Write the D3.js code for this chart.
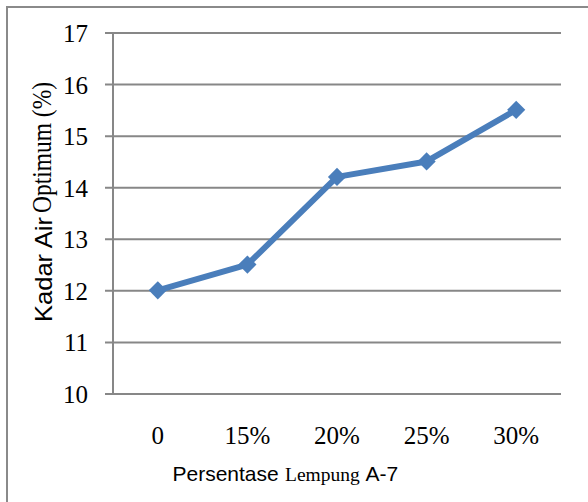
<!DOCTYPE html>
<html>
<head>
<meta charset="utf-8">
<script src="https://cdn.jsdelivr.net/npm/d3@7/dist/d3.min.js"></script>
<style>
  html, body { margin: 0; padding: 0; background: #fff; }
  svg { display: block; }
  .serif { font-family: "Liberation Serif", "Times New Roman", Times, serif; }
  .sans { font-family: "Liberation Sans", Arial, sans-serif; }
</style>
</head>
<body>
<svg id="chart" width="588" height="502"></svg>
<script>
// Optimum moisture content vs. A-7 clay percentage
const categories = ["0", "15%", "20%", "25%", "30%"];
const kadarAir = [12, 12.5, 14.2, 14.5, 15.5];
const yTicks = [10, 11, 12, 13, 14, 15, 16, 17];

const svg = d3.select("#chart");
const W = 588, H = 502;
const plot = { left: 113, right: 561, top: 32.5, bottom: 393.5 };

const gridColor = "#878787";
const lineColor = "#4a7ebb";

// frame edges (left and top)
svg.append("line").attr("x1", 7).attr("x2", 7).attr("y1", 6).attr("y2", H)
  .attr("stroke", "#8a8a8a").attr("stroke-width", 2);
svg.append("line").attr("x1", 6).attr("x2", W).attr("y1", 7).attr("y2", 7)
  .attr("stroke", "#8a8a8a").attr("stroke-width", 2);

const x = d3.scaleBand().domain(categories).range([plot.left, plot.right]);
const y = d3.scaleLinear().domain([10, 17]).range([plot.bottom, plot.top]);

// horizontal gridlines with short tick extensions on the left
const yAxis = d3.axisLeft(y).tickValues(yTicks)
  .tickSize(0).tickFormat(d => d).tickPadding(0);
const gy = svg.append("g").call(yAxis);
gy.attr("font-family", null).attr("font-size", null);
gy.select(".domain").remove();
gy.selectAll(".tick line").attr("stroke", gridColor).attr("stroke-width", 2)
  .attr("x1", plot.left - 8).attr("x2", plot.right);
gy.selectAll(".tick text")
  .attr("class", "serif").style("font-size", "25px").attr("fill", "#000")
  .attr("x", 88).attr("dy", "0.36em");

// vertical axis line
svg.append("line").attr("x1", plot.left).attr("x2", plot.left)
  .attr("y1", plot.top).attr("y2", plot.bottom)
  .attr("stroke", gridColor).attr("stroke-width", 2);

// category axis
const xAxis = d3.axisBottom(x).tickSize(0).tickPadding(0);
const gx = svg.append("g").attr("transform", `translate(0,${plot.bottom})`).call(xAxis);
gx.attr("font-family", null).attr("font-size", null);
gx.select(".domain").remove();
gx.selectAll(".tick text")
  .attr("class", "serif").style("font-size", "25px").attr("fill", "#000")
  .attr("y", 50).attr("dy", 0);

// data line
const line = d3.line().x((d, i) => x(categories[i]) + x.bandwidth() / 2).y(d => y(d));
svg.append("path").datum(kadarAir).attr("d", line)
  .attr("fill", "none").attr("stroke", lineColor).attr("stroke-width", 6)
  .attr("stroke-linejoin", "round");

// diamond markers
const diamond = d3.symbol().type(d3.symbolSquare).size(165);
svg.selectAll(".marker").data(kadarAir).join("path")
  .attr("class", "marker")
  .attr("d", diamond)
  .attr("transform", (d, i) => `translate(${x(categories[i]) + x.bandwidth() / 2},${y(d)}) rotate(45)`)
  .attr("fill", lineColor);

// x-axis title: one text element with mixed sans / serif runs
const xTitle = svg.append("text").attr("class", "sans").attr("y", 480.5)
  .style("font-size", "21px").attr("fill", "#000");
xTitle.append("tspan").attr("x", 172.5).text("Persentase");
xTitle.append("tspan").attr("x", 285).attr("class", "serif").style("font-size", "19.5px").text("Lempung");
xTitle.append("tspan").attr("x", 365.5).text("A-7");

// y-axis title: sans run followed by a condensed serif run
function run(parent, cls, size, txt, len) {
  const t = parent.append("text").attr("class", cls)
    .style("font-size", size + "px").attr("fill", "#000").text(txt);
  if (len) t.attr("textLength", len).attr("lengthAdjust", "spacingAndGlyphs");
  return t;
}
const yTitle = svg.append("g").attr("transform", "translate(52,322) rotate(-90)");
run(yTitle, "sans", 24, "Kadar Air", 105).attr("x", 0);
run(yTitle, "serif", 27, "Optimum (%)", 131).attr("x", 109).attr("y", -1);
</script>
</body>
</html>
